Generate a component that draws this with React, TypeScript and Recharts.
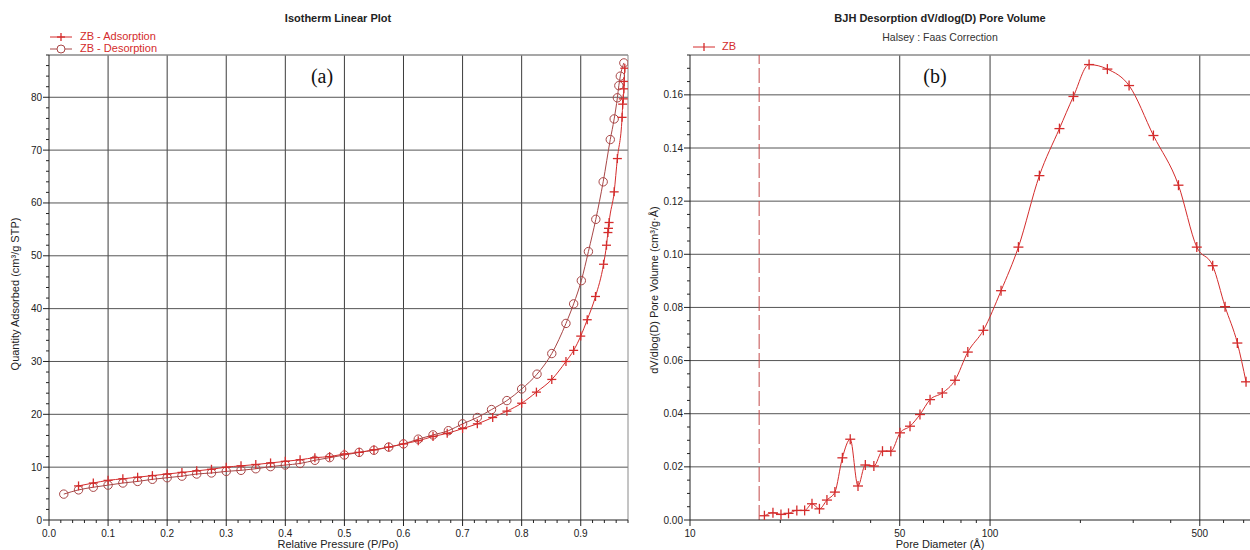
import React from 'react';
import { LineChart, Line, XAxis, YAxis, ReferenceLine } from 'recharts';

// ---------- Isotherm (a) data ----------
const adsP = [0.05, 0.075, 0.1, 0.125, 0.15, 0.175, 0.2, 0.225, 0.25, 0.275, 0.3, 0.325, 0.35, 0.375, 0.4, 0.425, 0.45, 0.475, 0.5, 0.525, 0.55, 0.575, 0.6, 0.625, 0.65, 0.674, 0.7, 0.725, 0.751, 0.775, 0.8, 0.825, 0.851, 0.875, 0.888, 0.9, 0.911, 0.925, 0.9386, 0.9436, 0.946, 0.947, 0.948, 0.9566, 0.962, 0.97, 0.971, 0.972, 0.973, 0.9735, 0.9746];
const adsQ = [6.45, 7.0, 7.5, 7.8, 8.1, 8.4, 8.7, 9.0, 9.3, 9.6, 10.0, 10.25, 10.5, 10.8, 11.1, 11.4, 11.8, 12.0, 12.5, 12.8, 13.3, 13.8, 14.4, 15.0, 15.8, 16.4, 17.3, 18.2, 19.4, 20.6, 22.1, 24.2, 26.6, 30.0, 32.1, 34.8, 37.9, 42.3, 48.4, 52.0, 54.4, 55.2, 56.3, 62.1, 68.4, 76.2, 78.7, 79.7, 81.6, 83.0, 85.5];

const desP = [0.025, 0.05, 0.075, 0.1, 0.125, 0.15, 0.175, 0.2, 0.225, 0.25, 0.275, 0.3, 0.325, 0.35, 0.375, 0.4, 0.425, 0.45, 0.475, 0.5, 0.525, 0.55, 0.575, 0.6, 0.625, 0.65, 0.676, 0.7, 0.725, 0.749, 0.775, 0.8, 0.826, 0.851, 0.875, 0.888, 0.901, 0.913, 0.9255, 0.938, 0.95, 0.9566, 0.962, 0.9645, 0.967, 0.973];
const desQ = [4.9, 5.7, 6.2, 6.6, 7.0, 7.3, 7.7, 8.0, 8.3, 8.7, 8.9, 9.2, 9.4, 9.7, 10.1, 10.4, 10.7, 11.3, 11.8, 12.3, 12.8, 13.2, 13.8, 14.4, 15.3, 16.1, 16.9, 18.2, 19.4, 20.9, 22.6, 24.8, 27.6, 31.5, 37.2, 40.9, 45.3, 50.8, 56.9, 64.0, 72.0, 75.9, 79.9, 82.2, 84.0, 86.5];

// ---------- BJH (b) data ----------
const poreD = [17.7, 18.9, 20.1, 21.3, 22.7, 24.1, 25.5, 27.0, 28.6, 30.4, 32.2, 34.2, 36.3, 38.4, 41.0, 43.8, 46.7, 50.1, 54.1, 58.4, 63.1, 69.3, 76.4, 84.3, 95, 108.8, 124.3, 146, 170.3, 189.6, 213.8, 246, 290.6, 350.3, 424.5, 488.6, 552, 607, 667, 713];
const poreV = [0.0016, 0.0027, 0.0021, 0.0025, 0.0036, 0.0036, 0.0061, 0.0042, 0.0075, 0.0105, 0.0234, 0.0304, 0.0128, 0.0207, 0.0203, 0.0259, 0.0259, 0.0328, 0.0353, 0.0397, 0.0453, 0.0478, 0.0526, 0.0632, 0.0714, 0.0863, 0.1027, 0.1296, 0.1473, 0.1594, 0.1714, 0.1697, 0.1635, 0.1447, 0.126, 0.1027, 0.0957, 0.0803, 0.0666, 0.052];

// ---------- ticks ----------
const isoXMajor = [0, 0.1, 0.2, 0.3, 0.4, 0.5, 0.6, 0.7, 0.8, 0.9];
const isoXMinorStep = 0.02;
const isoYMajor = [0, 10, 20, 30, 40, 50, 60, 70, 80];
const isoYMinorStep = 2;
const bjhXMajor = [10, 50, 100, 500];
const bjhXAll = [10, 20, 30, 40, 50, 60, 70, 80, 90, 100, 200, 300, 400, 500, 600, 700];
const bjhYMajor = [0, 0.02, 0.04, 0.06, 0.08, 0.1, 0.12, 0.14, 0.16];
const bjhYMinorStep = 0.005;

const isoXDomain: [number, number] = [0, 0.98];
const isoYDomain: [number, number] = [0, 88];
const bjhXDomain: [number, number] = [10, 735];
const bjhYDomain: [number, number] = [0, 0.175];
const lowerLimitD = 17;

const steps = (lo: number, hi: number, step: number) => {
  const out: number[] = [];
  const n = Math.floor((hi - lo) / step + 1e-6);
  for (let i = 0; i <= n; i++) out.push(+(lo + i * step).toFixed(6));
  return out;
};

const isoXTicks = steps(0, 0.98, isoXMinorStep);
const isoYTicks = steps(0, 88, isoYMinorStep);
const bjhYTicks = steps(0, 0.175, bjhYMinorStep);

const adsData = adsP.map((p, i) => ({ p, q: adsQ[i] }));
const desData = desP.map((p, i) => ({ p, q: desQ[i] }));
const bjhData = poreD.map((d, i) => ({ d, v: poreV[i] }));

const FONT = '"Liberation Sans", Arial, sans-serif';
const RED = '#d42c2c';
const DRED = '#a84646';
const AXIS = '#222';
const GRID = '#3c3c3c';

const isMajor = (majors: number[], v: number) => majors.some((m) => Math.abs(m - v) < 1e-9);

const makeXTick = (majors: number[], fmt: (v: number) => string) => (props: any) => {
  const { x, y, payload } = props;
  const v = payload.value;
  const mj = isMajor(majors, v);
  return (
    <g>
      <line x1={x} y1={y} x2={x} y2={y + (mj ? 6 : 3)} stroke={AXIS} strokeWidth={1} />
      {mj && (
        <text x={x} y={y + 17} textAnchor="middle" fontSize={10} fill="#222" fontFamily={FONT}>
          {fmt(v)}
        </text>
      )}
    </g>
  );
};

const makeYTick = (majors: number[], fmt: (v: number) => string) => (props: any) => {
  const { x, y, payload } = props;
  const v = payload.value;
  const mj = isMajor(majors, v);
  return (
    <g>
      <line x1={x} y1={y} x2={x - (mj ? 6 : 3)} y2={y} stroke={AXIS} strokeWidth={1} />
      {mj && (
        <text x={x - 7} y={y + 3.5} textAnchor="end" fontSize={10} fill="#222" fontFamily={FONT}>
          {fmt(v)}
        </text>
      )}
    </g>
  );
};

const CrossDot = (size: number, color: string) => (props: any) => {
  const { cx, cy, index } = props;
  if (cx == null || cy == null) return <g key={index} />;
  return (
    <g key={index}>
      <line x1={cx - size} y1={cy} x2={cx + size} y2={cy} stroke={color} strokeWidth={1.3} />
      <line x1={cx} y1={cy - size} x2={cx} y2={cy + size} stroke={color} strokeWidth={1.3} />
    </g>
  );
};

const CircleDot = (r: number, color: string) => (props: any) => {
  const { cx, cy, index } = props;
  if (cx == null || cy == null) return <g key={index} />;
  return <circle key={index} cx={cx} cy={cy} r={r} fill="none" stroke={color} strokeWidth={1} />;
};

const abs = (style: React.CSSProperties): React.CSSProperties => ({
  position: 'absolute',
  fontFamily: FONT,
  whiteSpace: 'nowrap',
  ...style,
});

const CenterText = ({ x, y, children, style }: any) => (
  <div style={abs({ left: x, top: y, transform: 'translate(-50%, -50%)', ...style })}>{children}</div>
);

const VText = ({ x, y, children, style }: any) => (
  <div style={abs({ left: x, top: y, transform: 'translate(-50%, -50%) rotate(-90deg)', ...style })}>{children}</div>
);

export default function App() {
  return (
    <div style={{ position: 'absolute', left: 0, top: 0, width: 1250, height: 550, background: '#fff', overflow: 'hidden' }}>
      {/* Chart (a) */}
      <div style={{ position: 'absolute', left: 0, top: 0 }}>
        <LineChart width={640} height={550} margin={{ top: 55, right: 12, bottom: 0, left: 0 }}>
          <XAxis
            type="number"
            dataKey="p"
            domain={isoXDomain}
            ticks={isoXTicks}
            interval={0}
            tickSize={0}
            tickMargin={0}
            height={30}
            allowDataOverflow
            stroke={AXIS}
            tick={makeXTick(isoXMajor, (v) => v.toFixed(1))}
          />
          <YAxis
            type="number"
            domain={isoYDomain}
            ticks={isoYTicks}
            interval={0}
            tickSize={0}
            tickMargin={0}
            width={49}
            allowDataOverflow
            stroke={AXIS}
            tick={makeYTick(isoYMajor, (v) => String(v))}
          />
          {isoXMajor.filter((v) => v > 0).map((v) => (
            <ReferenceLine key={'vx' + v} x={v} stroke={GRID} strokeWidth={1} />
          ))}
          {isoYMajor.filter((v) => v > 0).map((v) => (
            <ReferenceLine key={'hy' + v} y={v} stroke="#555" strokeWidth={1} />
          ))}
          <ReferenceLine y={isoYDomain[1]} stroke="#8a8a8a" strokeWidth={1.5} />
          <ReferenceLine x={isoXDomain[1]} stroke="#8a8a8a" strokeWidth={1} />
          <Line
            data={desData}
            dataKey="q"
            type="monotone"
            stroke={DRED}
            strokeWidth={1}
            dot={CircleDot(4.2, DRED)}
            isAnimationActive={false}
          />
          <Line
            data={adsData}
            dataKey="q"
            type="monotone"
            stroke={RED}
            strokeWidth={1}
            dot={CrossDot(4.5, RED)}
            isAnimationActive={false}
          />
        </LineChart>
      </div>

      {/* Chart (b) */}
      <div style={{ position: 'absolute', left: 640, top: 0 }}>
        <LineChart width={610} height={550} margin={{ top: 55, right: 0, bottom: 0, left: 0 }} data={bjhData}>
          <XAxis
            type="number"
            dataKey="d"
            scale="log"
            domain={bjhXDomain}
            ticks={bjhXAll}
            interval={0}
            tickSize={0}
            tickMargin={0}
            height={30}
            allowDataOverflow
            stroke={AXIS}
            tick={makeXTick(bjhXMajor, (v) => String(v))}
          />
          <YAxis
            type="number"
            domain={bjhYDomain}
            ticks={bjhYTicks}
            interval={0}
            tickSize={0}
            tickMargin={0}
            width={50}
            allowDataOverflow
            stroke={AXIS}
            tick={makeYTick(bjhYMajor, (v) => v.toFixed(2))}
          />
          {bjhXMajor.filter((v) => v > 10).map((v) => (
            <ReferenceLine key={'bvx' + v} x={v} stroke={GRID} strokeWidth={1} />
          ))}
          {bjhYMajor.filter((v) => v > 0).map((v) => (
            <ReferenceLine key={'bhy' + v} y={v} stroke="#555" strokeWidth={1} />
          ))}
          <ReferenceLine y={bjhYDomain[1]} stroke="#8a8a8a" strokeWidth={1.5} />
          <ReferenceLine x={lowerLimitD} stroke="#c24a4a" strokeWidth={1} strokeDasharray="15 4" />
          <Line
            dataKey="v"
            type="monotone"
            stroke={RED}
            strokeWidth={1}
            dot={CrossDot(5, RED)}
            isAnimationActive={false}
          />
        </LineChart>
      </div>

      {/* Titles */}
      <CenterText x={338} y={18} style={{ fontSize: 11, fontWeight: 'bold', color: '#222' }}>
        Isotherm Linear Plot
      </CenterText>
      <CenterText x={940} y={18} style={{ fontSize: 11, fontWeight: 'bold', color: '#222' }}>
        BJH Desorption dV/dlog(D) Pore Volume
      </CenterText>
      <CenterText x={940} y={37} style={{ fontSize: 10.5, color: '#333' }}>
        Halsey : Faas Correction
      </CenterText>

      {/* Panel labels */}
      <CenterText x={322} y={76} style={{ fontSize: 20, fontFamily: '"Liberation Serif", "Times New Roman", serif', color: '#111' }}>
        (a)
      </CenterText>
      <CenterText x={935} y={76} style={{ fontSize: 20, fontFamily: '"Liberation Serif", "Times New Roman", serif', color: '#111' }}>
        (b)
      </CenterText>

      {/* Legend (a) */}
      <svg style={{ position: 'absolute', left: 48, top: 30 }} width={28} height={26}>
        <line x1={2} y1={7} x2={24} y2={7} stroke={RED} strokeWidth={1} />
        <line x1={9} y1={7} x2={17} y2={7} stroke={RED} strokeWidth={1.3} />
        <line x1={13} y1={3} x2={13} y2={11} stroke={RED} strokeWidth={1.3} />
        <line x1={2} y1={19} x2={24} y2={19} stroke={DRED} strokeWidth={1} />
        <circle cx={13} cy={19} r={4} fill="#fff" stroke={DRED} strokeWidth={1} />
      </svg>
      <div style={abs({ left: 80, top: 30, fontSize: 11, color: RED, lineHeight: '13px' })}>ZB - Adsorption</div>
      <div style={abs({ left: 80, top: 42, fontSize: 11, color: RED, lineHeight: '13px' })}>ZB - Desorption</div>

      {/* Legend (b) */}
      <svg style={{ position: 'absolute', left: 691, top: 40 }} width={28} height={14}>
        <line x1={2} y1={7} x2={24} y2={7} stroke={RED} strokeWidth={1} />
        <line x1={13} y1={3} x2={13} y2={11} stroke={RED} strokeWidth={1.3} />
      </svg>
      <div style={abs({ left: 722, top: 40, fontSize: 11, color: RED, lineHeight: '13px' })}>ZB</div>

      {/* Axis titles */}
      <CenterText x={338} y={544} style={{ fontSize: 11, color: '#222' }}>
        Relative Pressure (P/Po)
      </CenterText>
      <CenterText x={940} y={544} style={{ fontSize: 11, color: '#222' }}>
        Pore Diameter (Å)
      </CenterText>
      <VText x={15} y={294} style={{ fontSize: 11, color: '#222' }}>
        Quantity Adsorbed (cm³/g STP)
      </VText>
      <VText x={654} y={290} style={{ fontSize: 11, color: '#222' }}>
        dV/dlog(D) Pore Volume (cm³/g·Å)
      </VText>
    </div>
  );
}
